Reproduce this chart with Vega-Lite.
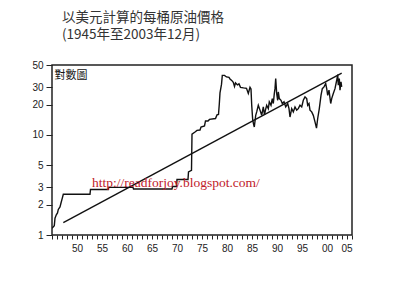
{
  "$schema": "https://vega.github.io/schema/vega-lite/v6.json",
  "width": 300,
  "height": 170,
  "autosize": {"type": "none"},
  "padding": {"left": 52, "top": 65, "right": 48, "bottom": 48},
  "background": "white",
  "config": {
    "view": {"stroke": "#222", "strokeWidth": 1.5},
    "axis": {"labelFont": "Liberation Sans", "labelFontSize": 10, "labelColor": "#222", "tickColor": "#222", "grid": false, "domain": false, "title": null}
  },
  "title": {
    "text": ["以美元計算的每桶原油價格", "(1945年至2003年12月)"],
    "anchor": "start",
    "frame": "group",
    "dx": 10,
    "offset": 19,
    "font": "Noto Sans CJK TC",
    "fontSize": 13.5,
    "lineHeight": 16.5,
    "fontWeight": "normal",
    "color": "#333"
  },
  "datasets": {
    "price": [
      {"year": 1945.0, "price": 1.17},
      {"year": 1945.14, "price": 1.19},
      {"year": 1945.46, "price": 1.24},
      {"year": 1945.6, "price": 1.47},
      {"year": 1945.86, "price": 1.59},
      {"year": 1946.1, "price": 1.66},
      {"year": 1946.26, "price": 1.8},
      {"year": 1946.6, "price": 1.91},
      {"year": 1946.8, "price": 2.09},
      {"year": 1947.06, "price": 2.34},
      {"year": 1947.26, "price": 2.55},
      {"year": 1952.6, "price": 2.55},
      {"year": 1952.7, "price": 2.85},
      {"year": 1956.26, "price": 2.85},
      {"year": 1956.36, "price": 2.99},
      {"year": 1961.2, "price": 2.99},
      {"year": 1961.3, "price": 2.88},
      {"year": 1969.0, "price": 2.88},
      {"year": 1969.1, "price": 3.05},
      {"year": 1969.9, "price": 3.05},
      {"year": 1970.0, "price": 3.59},
      {"year": 1972.2, "price": 3.59},
      {"year": 1972.3, "price": 4.27},
      {"year": 1972.9, "price": 4.42},
      {"year": 1973.0, "price": 10.2},
      {"year": 1973.6, "price": 10.7},
      {"year": 1974.0, "price": 11.1},
      {"year": 1974.6, "price": 11.2},
      {"year": 1974.8, "price": 12.0},
      {"year": 1975.5, "price": 12.3},
      {"year": 1975.7, "price": 13.8},
      {"year": 1976.2, "price": 13.8},
      {"year": 1976.5, "price": 14.3},
      {"year": 1977.7, "price": 14.6},
      {"year": 1978.0, "price": 15.85},
      {"year": 1978.3, "price": 16.0},
      {"year": 1978.46, "price": 20.4},
      {"year": 1978.6, "price": 26.3},
      {"year": 1978.9, "price": 32.0},
      {"year": 1979.06, "price": 39.4},
      {"year": 1979.5, "price": 39.4},
      {"year": 1979.9, "price": 38.0},
      {"year": 1980.4, "price": 37.6},
      {"year": 1980.6, "price": 36.3},
      {"year": 1980.94, "price": 35.1},
      {"year": 1981.26, "price": 33.5},
      {"year": 1981.5, "price": 30.5},
      {"year": 1981.7, "price": 33.1},
      {"year": 1982.1, "price": 31.6},
      {"year": 1982.4, "price": 32.4},
      {"year": 1982.7, "price": 29.9},
      {"year": 1983.3, "price": 29.5},
      {"year": 1983.9, "price": 29.2},
      {"year": 1984.26, "price": 26.0},
      {"year": 1984.6, "price": 29.9},
      {"year": 1984.8, "price": 28.8},
      {"year": 1984.94, "price": 19.95},
      {"year": 1985.14, "price": 14.1},
      {"year": 1985.3, "price": 12.9},
      {"year": 1985.46, "price": 12.0},
      {"year": 1985.74, "price": 15.7},
      {"year": 1985.94, "price": 17.0},
      {"year": 1986.26, "price": 19.8},
      {"year": 1986.6, "price": 17.7},
      {"year": 1986.94, "price": 15.7},
      {"year": 1987.26, "price": 19.05},
      {"year": 1987.5, "price": 15.85},
      {"year": 1987.7, "price": 17.8},
      {"year": 1987.94, "price": 19.8},
      {"year": 1988.26, "price": 18.3},
      {"year": 1988.46, "price": 21.4},
      {"year": 1988.8, "price": 19.8},
      {"year": 1989.06, "price": 23.1},
      {"year": 1989.26, "price": 20.6},
      {"year": 1989.46, "price": 25.9},
      {"year": 1989.6, "price": 29.0},
      {"year": 1989.74, "price": 36.7},
      {"year": 1989.94, "price": 25.9},
      {"year": 1990.14, "price": 22.2},
      {"year": 1990.26, "price": 26.9},
      {"year": 1990.46, "price": 23.1},
      {"year": 1990.8, "price": 22.2},
      {"year": 1991.06, "price": 20.6},
      {"year": 1991.4, "price": 21.4},
      {"year": 1991.74, "price": 19.05},
      {"year": 1992.14, "price": 20.6},
      {"year": 1992.4, "price": 18.3},
      {"year": 1992.6, "price": 15.1},
      {"year": 1992.94, "price": 18.3},
      {"year": 1993.26, "price": 17.0},
      {"year": 1993.6, "price": 19.05},
      {"year": 1993.94, "price": 17.7},
      {"year": 1994.26, "price": 18.3},
      {"year": 1994.6, "price": 19.8},
      {"year": 1994.94, "price": 19.05},
      {"year": 1995.26, "price": 22.2},
      {"year": 1995.6, "price": 24.0},
      {"year": 1995.94, "price": 23.1},
      {"year": 1996.14, "price": 19.8},
      {"year": 1996.4, "price": 20.6},
      {"year": 1996.6, "price": 17.7},
      {"year": 1996.94, "price": 17.0},
      {"year": 1997.26, "price": 15.7},
      {"year": 1997.6, "price": 13.5},
      {"year": 1997.9, "price": 11.7},
      {"year": 1998.14, "price": 14.6},
      {"year": 1998.46, "price": 18.3},
      {"year": 1998.8, "price": 24.9},
      {"year": 1999.06, "price": 29.0},
      {"year": 1999.4, "price": 30.2},
      {"year": 1999.74, "price": 32.6},
      {"year": 1999.94, "price": 29.0},
      {"year": 2000.14, "price": 24.9},
      {"year": 2000.4, "price": 28.0},
      {"year": 2000.74, "price": 20.6},
      {"year": 2000.94, "price": 23.1},
      {"year": 2001.26, "price": 25.9},
      {"year": 2001.6, "price": 29.0},
      {"year": 2001.94, "price": 35.2},
      {"year": 2002.14, "price": 40.1},
      {"year": 2002.26, "price": 31.4},
      {"year": 2002.46, "price": 36.6},
      {"year": 2002.6, "price": 28.0},
      {"year": 2002.8, "price": 33.9},
      {"year": 2002.94, "price": 30.2}
    ],
    "trend": [
      {"year": 1947.26, "price": 1.33},
      {"year": 2002.94, "price": 41.4}
    ],
    "labels": [
      {"year": 1945.5, "price": 38.5, "label": "對數圖"}
    ],
    "watermark": [
      {"year": 1953.0, "price": 3.31, "label": "http://readforjoy.blogspot.com/"}
    ]
  },
  "encoding": {
    "x": {
      "field": "year",
      "type": "quantitative",
      "scale": {"domain": [1945, 2005], "nice": false, "zero": false},
      "axis": {
        "values": [1945,1946,1947,1948,1949,1950,1951,1952,1953,1954,1955,1956,1957,1958,1959,1960,1961,1962,1963,1964,1965,1966,1967,1968,1969,1970,1971,1972,1973,1974,1975,1976,1977,1978,1979,1980,1981,1982,1983,1984,1985,1986,1987,1988,1989,1990,1991,1992,1993,1994,1995,1996,1997,1998,1999,2000,2001,2002,2003,2004,2005],
        "labelExpr": "(datum.value % 5 == 0 && datum.value >= 1950) ? substring(toString(datum.value), 2, 4) : ''",
        "labelOverlap": false,
        "tickSize": 4,
        "labelPadding": 4
      }
    },
    "y": {
      "field": "price",
      "type": "quantitative",
      "scale": {"type": "log", "domain": [1, 50], "nice": false},
      "axis": {
        "values": [1, 2, 3, 5, 10, 20, 30, 50],
        "format": "d",
        "tickSize": 6,
        "labelPadding": 3
      }
    }
  },
  "layer": [
    {
      "data": {"name": "price"},
      "mark": {"type": "line", "color": "#111", "strokeWidth": 1.4, "clip": true}
    },
    {
      "data": {"name": "trend"},
      "mark": {"type": "line", "color": "#111", "strokeWidth": 1.4}
    },
    {
      "data": {"name": "labels"},
      "mark": {"type": "text", "align": "left", "baseline": "middle", "font": "Noto Sans CJK TC", "fontSize": 11, "color": "#111"},
      "encoding": {"text": {"field": "label"}}
    },
    {
      "data": {"name": "watermark"},
      "mark": {"type": "text", "align": "left", "baseline": "middle", "font": "Liberation Serif", "fontSize": 13.5, "color": "#c0202a"},
      "encoding": {"text": {"field": "label"}}
    }
  ]
}
